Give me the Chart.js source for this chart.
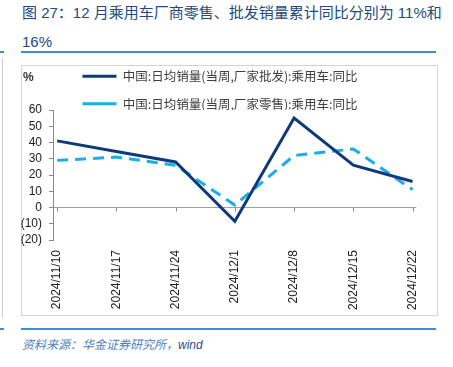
<!DOCTYPE html>
<html>
<head>
<meta charset="utf-8">
<script src="https://cdn.jsdelivr.net/npm/chart.js@4.4.1/dist/chart.umd.min.js"></script>
<style>
  body { margin: 0; background: #fff; width: 453px; height: 367px; position: relative; overflow: hidden;
         font-family: "Liberation Sans", "Noto Sans CJK SC", sans-serif; }
  .title { position: absolute; left: 22px; top: -2px; width: 420px; font-size: 15px; line-height: 29px; color: #24497f; }
  .rule { position: absolute; height: 2px; background: #3b8fd6; }
  .box { position: absolute; left: 21px; top: 65px; width: 415px; height: 249px; border: 1px solid #d4d4d4; }
  .side { position: absolute; left: 2px; top: 58px; width: 1px; height: 260px; background: #cfcfcf; }
  #wrap { position: absolute; left: 21px; top: 65px; width: 416px; height: 250px; }
  .pct { position: absolute; left: 23px; top: 70px; font-size: 12px; font-weight: bold; color: #333; }
  .source { position: absolute; left: 22px; top: 335px; font-size: 12px; font-style: italic; color: #4a7fc0; }
  .source b { font-weight: normal; color: #1f4e9a; }
</style>
</head>
<body>
<div class="title">图 27：12 月乘用车厂商零售、批发销量累计同比分别为 11%和<br>16%</div>
<div class="rule" style="left:21px;top:51px;width:415px;"></div>
<div class="rule" style="left:0;top:51px;width:4px;"></div>
<div class="side"></div>
<div class="box"></div>
<div id="wrap"><canvas id="chart"></canvas></div>
<div class="pct">%</div>
<div class="rule" style="left:21px;top:328px;width:415px;"></div>
<div class="rule" style="left:0;top:328px;width:4px;"></div>
<div class="source">资料来源：华金证券研究所，<b>wind</b></div>

<script>
// weekly dates
const dates = ["2024/11/10", "2024/11/17", "2024/11/24", "2024/12/1", "2024/12/8", "2024/12/15", "2024/12/22"];
// 日均销量同比 (%)
const wholesale = [41, 34.5, 28, -8.5, 55, 26, 16];
const retail = [29, 31, 26, 1.5, 32, 36, 11];

const seriesNames = ["中国:日均销量(当周,厂家批发):乘用车:同比", "中国:日均销量(当周,厂家零售):乘用车:同比"];

const toPoints = (arr) => arr.map((v, i) => ({ x: i, y: v }));

// legend box: fixed height, nudged left like the original
const legendBox = {
  id: "legendBox",
  beforeLayout(chart) {
    const lg = chart.legend;
    if (lg && !lg._fixed) {
      const fit = lg.fit.bind(lg);
      lg.fit = function () { fit(); this.height = 55; };
      lg._fixed = true;
    }
  },
  afterLayout(chart) {
    chart.legend.left -= 6;
    chart.legend.right -= 6;
  }
};

// small tick marks on the zero line
const zeroTicks = {
  id: "zeroTicks",
  beforeDatasetsDraw(chart) {
    const { ctx, scales } = chart;
    const y0 = scales.y.getPixelForValue(0);
    ctx.save();
    ctx.strokeStyle = "#8a8a8a";
    ctx.lineWidth = 1;
    dates.forEach((d, i) => {
      const x = Math.round(scales.x.getPixelForValue(i)) + 0.5;
      ctx.beginPath();
      ctx.moveTo(x, y0);
      ctx.lineTo(x, y0 + 4);
      ctx.stroke();
    });
    ctx.restore();
  }
};

const ctx = document.getElementById("chart").getContext("2d");
new Chart(ctx, {
  type: "line",
  data: {
    datasets: [
      {
        label: seriesNames[0],
        data: toPoints(wholesale),
        borderColor: "#0e3a78",
        backgroundColor: "#0e3a78",
        borderWidth: 3,
        pointRadius: 0,
        tension: 0
      },
      {
        label: seriesNames[1],
        data: toPoints(retail),
        borderColor: "#17aee9",
        backgroundColor: "#17aee9",
        borderWidth: 3,
        borderDash: [11, 7],
        pointRadius: 0,
        tension: 0
      }
    ]
  },
  options: {
    responsive: true,
    maintainAspectRatio: false,
    animation: false,
    layout: { padding: { top: -10, right: 6, left: 0, bottom: 0 } },
    plugins: {
      tooltip: { enabled: false },
      legend: {
        position: "top",
        align: "center",
        labels: {
          usePointStyle: true,
          pointStyle: "line",
          pointStyleWidth: 34,
          boxHeight: 12,
          padding: 15,
          color: "#404040",
          font: { family: "Noto Sans CJK SC", size: 12.5 }
        }
      }
    },
    scales: {
      x: {
        type: "linear",
        min: -0.07,
        max: 6.065,
        afterBuildTicks: (scale) => { scale.ticks = dates.map((d, i) => ({ value: i })); },
        afterFit: (scale) => { scale.height = 75; },
        grid: { display: false, drawTicks: false },
        border: { display: false },
        ticks: {
          minRotation: 90,
          maxRotation: 90,
          padding: 10,
          color: "#222",
          font: { family: "Liberation Sans", size: 12 },
          callback: (v) => dates[v]
        }
      },
      y: {
        min: -20,
        max: 60,
        afterFit: (scale) => { scale.width = 32; },
        grid: {
          color: (c) => (c.tick && c.tick.value === 0 ? "#a0a0a0" : "rgba(0,0,0,0)"),
          tickColor: "#8a8a8a",
          tickLength: 4
        },
        border: { display: true, color: "#8a8a8a" },
        ticks: {
          stepSize: 10,
          autoSkip: false,
          padding: 7,
          color: "#222",
          font: { family: "Liberation Sans", size: 12 },
          callback: (v) => (v < 0 ? "(" + (-v) + ")" : String(v))
        }
      }
    }
  },
  plugins: [legendBox, zeroTicks]
});
</script>
</body>
</html>
